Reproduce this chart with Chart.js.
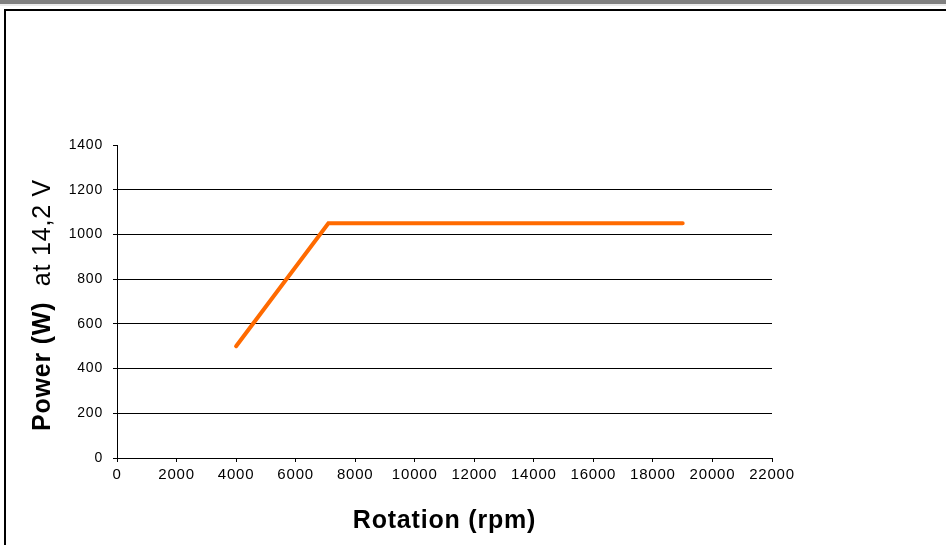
<!DOCTYPE html>
<html>
<head>
<meta charset="utf-8">
<script src="https://cdn.jsdelivr.net/npm/chart.js@4/dist/chart.umd.min.js"></script>
<style>
  html, body { margin: 0; padding: 0; background: #fff; }
  #wrap { position: relative; width: 946px; height: 545px; overflow: hidden; }
  #band { position: absolute; left: 0; top: 0; width: 946px; height: 4px; background: #808080; }
  #band2 { position: absolute; left: 0; top: 4px; width: 946px; height: 2px; background: #ececec; }
  #frame { position: absolute; left: 4px; top: 9px; width: 960px; height: 560px;
           border-top: 2px solid #000; border-left: 2px solid #000; }
  #chart { position: absolute; left: 0; top: 0; }
</style>
</head>
<body>
<div id="wrap">
  <div id="band"></div>
  <div id="band2"></div>
  <div id="frame"></div>
  <canvas id="chart" width="946" height="545"></canvas>
</div>
<script>
// values
var rpm    = [4000, 7100, 19000];
var powerW = [500, 1050, 1050];

var xMin = 0, xMax = 22000, xStep = 2000;
var yMin = 0, yMax = 1400, yStep = 200;

var xTitle = 'Rotation (rpm)';
var yTitleBold = 'Power (W)';
var yTitleRest = '  at 14,2 V';

var FONT = '"Liberation Sans", Arial, sans-serif';

var points = [];
for (var i = 0; i < rpm.length; i++) {
    points.push({x: rpm[i], y: powerW[i]});
}

function plainLabel(value) {
    return String(value);
}

// titles drawn by hand so the y title can mix bold and normal text
var titlesPlugin = {
    id: 'titles',
    beforeDraw: function(chart) {
        chart.ctx.letterSpacing = '0.8px';
    },
    afterDraw: function(chart) {
        var ctx = chart.ctx;
        var area = chart.chartArea;
        ctx.save();
        ctx.fillStyle = '#000';
        ctx.letterSpacing = '0.8px';

        ctx.font = 'bold 25px ' + FONT;
        ctx.textAlign = 'center';
        ctx.textBaseline = 'alphabetic';
        ctx.fillText(xTitle, (area.left + area.right) / 2, 528);

        ctx.translate(50, 305);
        ctx.rotate(-Math.PI / 2);
        ctx.textAlign = 'left';
        ctx.font = 'bold 25px ' + FONT;
        var w1 = ctx.measureText(yTitleBold).width;
        ctx.font = '25px ' + FONT;
        var w2 = ctx.measureText(yTitleRest).width;
        var start = -(w1 + w2) / 2;
        ctx.font = 'bold 25px ' + FONT;
        ctx.fillText(yTitleBold, start, 0);
        ctx.font = '25px ' + FONT;
        ctx.fillText(yTitleRest, start + w1, 0);
        ctx.restore();
    }
};

new Chart(document.getElementById('chart').getContext('2d'), {
    type: 'scatter',
    data: {
        datasets: [{
            data: points,
            showLine: true,
            borderColor: '#FF6A00',
            backgroundColor: '#FF6A00',
            borderWidth: 4,
            borderCapStyle: 'round',
            pointRadius: 0
        }]
    },
    options: {
        responsive: false,
        animation: false,
        devicePixelRatio: 1,
        layout: { padding: { left: 0, top: 145, right: 174, bottom: 0 } },
        plugins: { legend: { display: false }, tooltip: { enabled: false } },
        scales: {
            x: {
                type: 'linear',
                min: xMin, max: xMax,
                afterFit: function(scale) { scale.height = 87; },
                ticks: {
                    stepSize: xStep,
                    color: '#000',
                    padding: 4,
                    maxRotation: 0,
                    autoSkip: false,
                    callback: plainLabel,
                    font: { family: FONT, size: 15 }
                },
                grid: { drawOnChartArea: false, drawTicks: true, tickLength: 4, tickColor: '#000' },
                border: { display: true, color: '#000', width: 1 }
            },
            y: {
                min: yMin, max: yMax,
                afterFit: function(scale) { scale.width = 117; },
                ticks: {
                    stepSize: yStep,
                    color: '#000',
                    padding: 10,
                    callback: plainLabel,
                    font: { family: FONT, size: 14 }
                },
                grid: {
                    color: function(c) {
                        return (c.tick && (c.tick.value === yMax || c.tick.value === yMin)) ? 'rgba(0,0,0,0)' : '#000';
                    },
                    tickColor: '#000',
                    tickLength: 4,
                    lineWidth: 1
                },
                border: { display: true, color: '#000', width: 1 }
            }
        }
    },
    plugins: [titlesPlugin]
});
</script>
</body>
</html>
